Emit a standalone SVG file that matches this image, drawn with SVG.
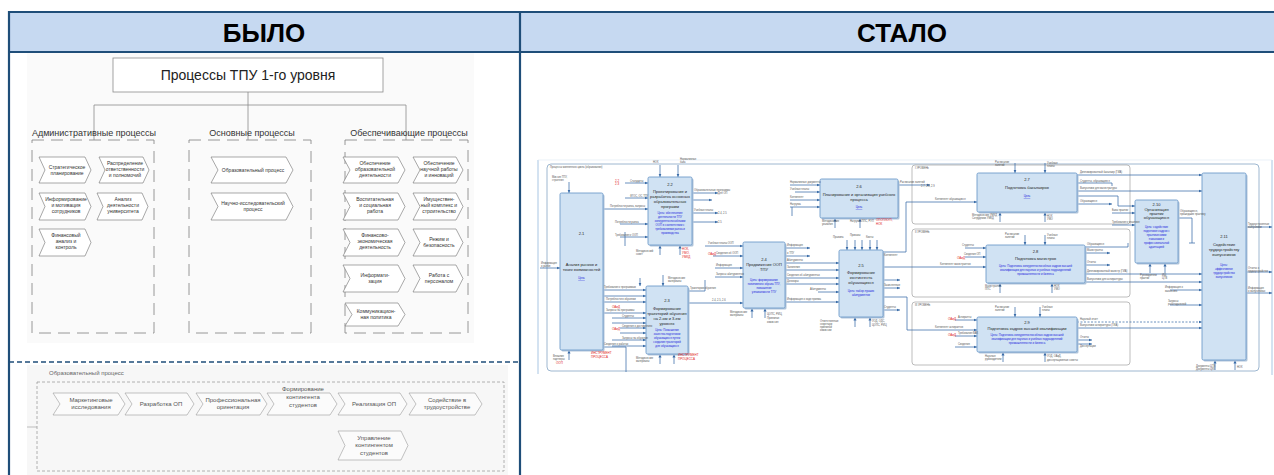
<svg xmlns="http://www.w3.org/2000/svg" width="1274" height="475" viewBox="0 0 1274 475">
<style>
.hd{fill:#C6D9F1}
.bd{stroke:#1F4E79;stroke-width:2.2;fill:none}
.ttl{font-family:"Liberation Sans",Arial,sans-serif;font-weight:bold;font-size:26px;fill:#000;text-anchor:middle}
.o{fill:none;stroke:#8C8C8C;stroke-width:0.8}
.dsh{fill:none;stroke:#8C8C8C;stroke-width:0.9;stroke-dasharray:12 7}
.dsh2{fill:none;stroke:#A0A0A0;stroke-width:0.8;stroke-dasharray:3 2}
.chev{fill:#FFFFFF;stroke:#6E6E6E;stroke-width:0.6}
.chev2{fill:#FBFBFB;stroke:#9A9A9A;stroke-width:0.6}
.ct{font-family:"Liberation Sans",Arial,sans-serif;font-size:5px;fill:#333;text-anchor:middle}
.gl{font-family:"Liberation Sans",Arial,sans-serif;font-size:9px;fill:#333;text-anchor:middle}
.c2{font-family:"Liberation Sans",Arial,sans-serif;font-size:6px;fill:#555;text-anchor:middle}
.bx{fill:#D0E2F3;stroke:#6F9CCB;stroke-width:0.9}
.sh{fill:#AFC4DA}
.grp{fill:none;stroke:#A0A0A0;stroke-width:0.7}
.c{fill:none;stroke:#3A6CA8;stroke-width:0.75;marker-end:url(#a)}
.cn{fill:none;stroke:#3A6CA8;stroke-width:0.75}
.cd{fill:none;stroke:#3A6CA8;stroke-width:0.75;stroke-dasharray:2 1.5;marker-end:url(#a)}
.f{font-family:"Liberation Sans",Arial,sans-serif}
.bt{font-size:4px;fill:#222;text-anchor:middle}
.bl{font-size:2.8px;fill:#2222DD;text-anchor:middle}
.lb{font-size:2.6px;fill:#555}
.rd{font-size:3px;fill:#E02020}
</style>
<defs>
<marker id="a" markerWidth="4" markerHeight="4" refX="3.5" refY="2" orient="auto" markerUnits="userSpaceOnUse">
<path d="M0,0.5 L3.5,2 L0,3.5 Z" fill="#3A6CA8"/>
</marker>
</defs>

<!-- table -->
<g id="table">
<rect class="hd" x="9" y="12" width="1265" height="40"/>
<line class="bd" x1="8" y1="12" x2="1274" y2="12"/>
<line class="bd" x1="8" y1="52" x2="1274" y2="52"/>
<line class="bd" x1="9" y1="11" x2="9" y2="475"/>
<line class="bd" x1="520" y1="11" x2="520" y2="475"/>
<line x1="9" y1="362" x2="520" y2="362" stroke="#1F4E79" stroke-width="1.4" stroke-dasharray="5 3"/>
<text class="ttl" x="264" y="42">БЫЛО</text>
<text class="ttl" x="902" y="42">СТАЛО</text>
</g>

<!-- LEFT: old structure -->
<g id="old-top">
<rect x="27" y="53" width="447" height="290" fill="#FAFAFA"/>
<g id="root">
<rect x="113" y="58" width="270" height="34" fill="#FFFFFF" stroke="#8C8C8C" stroke-width="0.8"/>
<text class="f" x="248" y="80" font-size="14" fill="#222" text-anchor="middle">Процессы ТПУ 1-го уровня</text>
</g>
<g id="tree-lines">
<path class="o" d="M248,92 V140 M94,105 H406 M94,105 V140 M406,105 V140"/>
</g>
<g id="grp-admin">
<text class="gl" x="94" y="136">Административные процессы</text>
<rect class="dsh" x="32" y="140" width="122" height="193"/>
<polygon class="chev" points="39,157 85,157 91,170 85,183 39,183 45,170"/>
<text class="ct" x="67" y="169">Стратегическое</text><text class="ct" x="67" y="175">планирование</text>
<polygon class="chev" points="99,157 143,157 149,170 143,183 99,183 105,170"/>
<text class="ct" x="125" y="165">Распределение</text><text class="ct" x="125" y="171">ответственности</text><text class="ct" x="125" y="177">и полномочий</text>
<polygon class="chev" points="39,193 85,193 91,206.5 85,220 39,220 45,206.5"/>
<text class="ct" x="66" y="201">Информирование</text><text class="ct" x="66" y="207">и мотивация</text><text class="ct" x="66" y="213">сотрудников</text>
<polygon class="chev" points="97,193 142,193 148,206.5 142,220 97,220 103,206.5"/>
<text class="ct" x="123" y="201">Анализ</text><text class="ct" x="123" y="207">деятельности</text><text class="ct" x="123" y="213">университета</text>
<polygon class="chev" points="39,229 85,229 91,242.5 85,256 39,256 45,242.5"/>
<text class="ct" x="66" y="237">Финансовый</text><text class="ct" x="66" y="243">анализ и</text><text class="ct" x="66" y="249">контроль</text>
</g>
<g id="grp-main">
<text class="gl" x="252" y="136">Основные процессы</text>
<rect class="dsh" x="189" y="140" width="122" height="193"/>
<polygon class="chev" points="211,157 286,157 293,170 286,183 211,183 218,170"/>
<text class="ct" x="253" y="172">Образовательный процесс</text>
<polygon class="chev" points="211,193 286,193 293,206.5 286,220 211,220 218,206.5"/>
<text class="ct" x="253" y="205">Научно-исследовательский</text><text class="ct" x="253" y="211">процесс</text>
</g>
<g id="grp-support">
<text class="gl" x="409" y="136">Обеспечивающие процессы</text>
<rect class="dsh" x="345" y="140" width="123" height="193"/>
<polygon class="chev" points="343,157 398,157 405,170 398,183 343,183 350,170"/>
<text class="ct" x="375" y="165">Обеспечение</text><text class="ct" x="375" y="171">образовательной</text><text class="ct" x="375" y="177">деятельности</text>
<polygon class="chev" points="413,157 456,157 463,170 456,183 413,183 420,170"/>
<text class="ct" x="439" y="165">Обеспечение</text><text class="ct" x="439" y="171">научной работы</text><text class="ct" x="439" y="177">и инноваций</text>
<polygon class="chev" points="343,193 398,193 405,206.5 398,220 343,220 350,206.5"/>
<text class="ct" x="375" y="201">Воспитательная</text><text class="ct" x="375" y="207">и социальная</text><text class="ct" x="375" y="213">работа</text>
<polygon class="chev" points="413,193 456,193 463,206.5 456,220 413,220 420,206.5"/>
<text class="ct" x="439" y="201">Имуществен-</text><text class="ct" x="439" y="207">ный комплекс и</text><text class="ct" x="439" y="213">строительство</text>
<polygon class="chev" points="343,229 398,229 405,242.5 398,256 343,256 350,242.5"/>
<text class="ct" x="375" y="237">Финансово-</text><text class="ct" x="375" y="243">экономическая</text><text class="ct" x="375" y="249">деятельность</text>
<polygon class="chev" points="413,229 456,229 463,242.5 456,256 413,256 420,242.5"/>
<text class="ct" x="439" y="241">Режим и</text><text class="ct" x="439" y="247">безопасность</text>
<polygon class="chev" points="343,265 398,265 405,278.5 398,292 343,292 350,278.5"/>
<text class="ct" x="375" y="277">Информати-</text><text class="ct" x="375" y="283">зация</text>
<polygon class="chev" points="413,265 456,265 463,278.5 456,292 413,292 420,278.5"/>
<text class="ct" x="439" y="277">Работа с</text><text class="ct" x="439" y="283">персоналом</text>
<polygon class="chev" points="345,303 398,303 405,314.5 398,326 345,326 352,314.5"/>
<text class="ct" x="376" y="313">Коммуникацион-</text><text class="ct" x="376" y="319">ная политика</text>
</g>
</g>

<g id="old-edu">
<rect x="27" y="365" width="481" height="110" fill="#F7F7F7"/>
<text class="f" x="49" y="375" font-size="6" fill="#666">Образовательный процесс</text>
<rect class="dsh2" x="37" y="382" width="467" height="89"/>
<line x1="27" y1="427" x2="37" y2="427" stroke="#999" stroke-width="0.6"/>
<polygon class="chev2" points="53,393 118,393 125,404 118,415 53,415 60,404"/>
<text class="c2" x="91" y="402">Маркетинговые</text><text class="c2" x="91" y="409">исследования</text>
<polygon class="chev2" points="125,393 187,393 194,404 187,415 125,415 132,404"/>
<text class="c2" x="161" y="406">Разработка ОП</text>
<polygon class="chev2" points="196,393 260,393 267,404 260,415 196,415 203,404"/>
<text class="c2" x="233" y="402">Профессиональная</text><text class="c2" x="233" y="409">ориентация</text>
<polygon class="chev2" points="267,393 330,393 337,404 330,415 267,415 274,404"/>
<text class="c2" x="303" y="391">Формирование</text><text class="c2" x="303" y="399">контингента</text><text class="c2" x="303" y="407">студентов</text>
<polygon class="chev2" points="338,393 400,393 407,404 400,415 338,415 345,404"/>
<text class="c2" x="374" y="406">Реализация ОП</text>
<polygon class="chev2" points="409,393 475,393 482,404 475,415 409,415 416,404"/>
<text class="c2" x="447" y="402">Содействие в</text><text class="c2" x="447" y="409">трудоустройстве</text>
<polygon class="chev2" points="338,431 401,431 408,445.5 401,460 338,460 345,445.5"/>
<text class="c2" x="374" y="440">Управление</text><text class="c2" x="374" y="447">контингентом</text><text class="c2" x="374" y="455">студентов</text>
</g>

<!-- RIGHT: new IDEF diagram -->
<g id="new-frame">
<line x1="538" y1="160" x2="538" y2="374" stroke="#A9C6E3" stroke-width="1"/>
<line x1="1272" y1="160" x2="1272" y2="375" stroke="#A9C6E3" stroke-width="1"/>
<line x1="538" y1="160" x2="1272" y2="160" stroke="#DCE8F4" stroke-width="0.6"/>
<rect x="547" y="164" width="712" height="207" rx="4" fill="none" stroke="#93AFCB" stroke-width="0.9"/>
<text class="f lb" x="550" y="168">Процессы жизненного цикла (образование)</text>
<rect class="grp" x="912" y="165" width="218" height="59" rx="3"/>
<text class="f lb" x="915" y="169">I УРОВЕНЬ</text>
<rect class="grp" x="912" y="229" width="218" height="68" rx="3"/>
<text class="f lb" x="915" y="233">II УРОВЕНЬ</text>
<rect class="grp" x="912" y="302" width="218" height="63" rx="3"/>
<text class="f lb" x="915" y="306">III УРОВЕНЬ</text>
</g>

<g id="connectors">
<!-- 2.1 -->
<path class="c" d="M540,268 H560"/>
<path class="c" d="M569,182 V193"/>
<path class="c" d="M569,360 V350"/>
<path class="c" d="M603,209 H648"/>
<path class="c" d="M603,290 H646"/>
<path class="c" d="M603,296 H646"/>
<path class="c" d="M603,302 H646"/>
<path class="c" d="M603,313 H646"/>
<path class="cn" d="M603,347 H626 V372"/>
<!-- 2.2 -->
<path class="c" d="M660,165 V177"/>
<path class="c" d="M678,165 V177"/>
<path class="c" d="M625,183 H648"/>
<path class="c" d="M625,198 H648"/>
<path class="c" d="M620,224 H648"/>
<path class="c" d="M620,237 H648"/>
<path class="cn" d="M625,232 V246"/>
<path class="c" d="M660,255 V245"/>
<path class="c" d="M680,255 V245"/>
<path class="c" d="M692,193 H718"/>
<path class="c" d="M692,200 H712"/>
<path class="c" d="M692,213 H718"/>
<path class="c" d="M692,222 H718"/>
<!-- 2.3 -->
<path class="c" d="M663,275 V286"/>
<path class="c" d="M640,278 V286"/>
<path class="c" d="M612,318 H646"/>
<path class="c" d="M612,323 H646"/>
<path class="c" d="M620,328 H646"/>
<path class="c" d="M620,333 H646"/>
<path class="c" d="M612,340 H646"/>
<path class="c" d="M612,346 H646"/>
<path class="c" d="M660,364 V354"/>
<path class="c" d="M674,364 V354"/>
<path class="cn" d="M688,291 H705 V280"/>
<path class="c" d="M688,303 H743"/>
<!-- 2.4 -->
<path class="c" d="M705,246 H743"/>
<path class="c" d="M713,256 H743"/>
<path class="c" d="M715,268 H743"/>
<path class="c" d="M715,277 H743"/>
<path class="c" d="M752,318 V308"/>
<path class="c" d="M765,318 V308"/>
<path class="c" d="M785,248 H810"/>
<path class="c" d="M785,256 H810"/>
<path class="c" d="M785,263 H839"/>
<path class="c" d="M785,270 H839"/>
<path class="c" d="M785,278 H839"/>
<path class="c" d="M785,284 H839"/>
<path class="c" d="M785,302 H839"/>
<!-- 2.5 -->
<path class="c" d="M847,240 V250"/>
<path class="c" d="M855,240 V250"/>
<path class="c" d="M862,240 V250"/>
<path class="c" d="M870,240 V250"/>
<path class="c" d="M877,240 V250"/>
<path class="c" d="M818,292 H839"/>
<path class="c" d="M855,327 V317"/>
<path class="c" d="M870,327 V317"/>
<path class="cn" d="M883,252 H906 V202"/>
<path class="c" d="M906,202 H977"/>
<path class="c" d="M883,267 H986"/>
<path class="c" d="M883,280 H900"/>
<path class="c" d="M883,288 H900"/>
<path class="cn" d="M883,297 H907 V330"/>
<path class="c" d="M907,330 H977"/>
<path class="c" d="M883,310 H900"/>
<!-- 2.6 -->
<path class="c" d="M790,185 H820"/>
<path class="c" d="M795,192 H820"/>
<path class="c" d="M790,200 H820"/>
<path class="c" d="M790,207 H820"/>
<path class="cn" d="M792,207 V216"/>
<path class="c" d="M835,228 V218"/>
<path class="c" d="M860,228 V218"/>
<path class="c" d="M898,185 H930"/>
<!-- 2.7 -->
<path class="c" d="M1015,163 V173"/>
<path class="c" d="M1045,163 V173"/>
<path class="c" d="M1000,222 V212"/>
<path class="c" d="M1045,222 V212"/>
<path class="c" d="M1077,175 H1202"/>
<path class="cn" d="M1077,183 H1112 V186"/>
<path class="c" d="M1077,191 H1202"/>
<path class="cn" d="M1077,196 H1118 V206"/>
<path class="c" d="M1118,206 H1135"/>
<path class="c" d="M1077,204 H1112"/>
<!-- 2.8 -->
<path class="c" d="M1025,235 V245"/>
<path class="c" d="M1045,235 V245"/>
<path class="c" d="M965,248 H986"/>
<path class="c" d="M965,257 H986"/>
<path class="c" d="M1000,293 V283"/>
<path class="c" d="M1052,293 V283"/>
<path class="cn" d="M1085,247 H1128 V243"/>
<path class="c" d="M1085,253 H1110"/>
<path class="c" d="M1085,265 H1110"/>
<path class="c" d="M1085,274 H1202"/>
<path class="c" d="M1085,282 H1202"/>
<!-- 2.9 -->
<path class="c" d="M1015,307 V317"/>
<path class="c" d="M1040,307 V317"/>
<path class="c" d="M955,320 H977"/>
<path class="c" d="M955,336 H977"/>
<path class="c" d="M955,347 H977"/>
<path class="c" d="M1003,362 V352"/>
<path class="c" d="M1045,362 V352"/>
<path class="cd" d="M1077,322 H1202"/>
<path class="c" d="M1077,328 H1202"/>
<path class="c" d="M1077,340 H1092"/>
<path class="c" d="M1077,344 H1092"/>
<!-- 2.10 -->
<path class="c" d="M1112,213 H1135"/>
<path class="c" d="M1112,225 H1135"/>
<path class="c" d="M1150,273 V263"/>
<path class="c" d="M1165,273 V263"/>
<path class="cn" d="M1178,218 H1192 V243 M1189,243 H1195"/>
<!-- 2.11 -->
<path class="c" d="M1170,290 H1202"/>
<path class="c" d="M1170,305 H1202"/>
<path class="c" d="M1215,370 V360"/>
<path class="c" d="M1235,370 V360"/>
<path class="c" d="M1246,227 H1272"/>
<path class="c" d="M1246,272 H1272"/>
<path class="c" d="M1246,293 H1272"/>
</g>

<g id="n2-1">
<rect class="sh" x="561.5" y="194.5" width="43" height="157" rx="1.5"/>
<rect class="bx" x="560" y="193" width="43" height="157" rx="1.5"/>
<text class="f bt" x="581.5" y="235">2.1</text>
<text class="f bt" x="581.5" y="266">Анализ рынков и</text>
<text class="f bt" x="581.5" y="271">точек возможностей</text>
<text class="f bl" x="581.5" y="279" text-decoration="underline">Цель</text>
</g>
<g id="n2-2">
<rect class="sh" x="649.5" y="178.5" width="44" height="68" rx="1.5"/>
<rect class="bx" x="648" y="177" width="44" height="68" rx="1.5"/>
<text class="f bt" x="670" y="186">2.2</text>
<text class="f bt" x="670" y="193">Проектирование и</text>
<text class="f bt" x="670" y="198">разработка основных</text>
<text class="f bt" x="670" y="203">образовательных</text>
<text class="f bt" x="670" y="208">программ</text>
<text class="f bl" x="670" y="214">Цель: обеспечение</text>
<text class="f bl" x="670" y="218">деятельности ТПУ</text>
<text class="f bl" x="670" y="222">конкурентоспособными</text>
<text class="f bl" x="670" y="226">ООП в соответствии с</text>
<text class="f bl" x="670" y="230">требованиями рынка и</text>
<text class="f bl" x="670" y="234">производства</text>
</g>
<g id="n2-3">
<rect class="sh" x="647.5" y="287.5" width="42" height="68" rx="1.5"/>
<rect class="bx" x="646" y="286" width="42" height="68" rx="1.5"/>
<text class="f bt" x="667" y="302">2.3</text>
<text class="f bt" x="667" y="310">Формирование</text>
<text class="f bt" x="667" y="315">траекторий обучения</text>
<text class="f bt" x="667" y="320">на 2-ом и 3-ем</text>
<text class="f bt" x="667" y="325">уровнях</text>
<text class="f bl" x="667" y="331">Цель: Повышение</text>
<text class="f bl" x="667" y="335">качества подготовки</text>
<text class="f bl" x="667" y="339">обучающихся путем</text>
<text class="f bl" x="667" y="343">создания траекторий</text>
<text class="f bl" x="667" y="347">для обучающихся</text>
</g>
<g id="n2-4">
<rect class="sh" x="744.5" y="243.5" width="42" height="66" rx="1.5"/>
<rect class="bx" x="743" y="242" width="42" height="66" rx="1.5"/>
<text class="f bt" x="764" y="261">2.4</text>
<text class="f bt" x="764" y="266">Продвижение ООП</text>
<text class="f bt" x="764" y="271">ТПУ</text>
<text class="f bl" x="764" y="281">Цель: формирование</text>
<text class="f bl" x="764" y="285">позитивного образа ТПУ,</text>
<text class="f bl" x="764" y="289">повышение</text>
<text class="f bl" x="764" y="293">узнаваемости ТПУ</text>
</g>
<g id="n2-5">
<rect class="sh" x="840.5" y="251.5" width="44" height="67" rx="1.5"/>
<rect class="bx" x="839" y="250" width="44" height="67" rx="1.5"/>
<text class="f bt" x="861" y="267">2.5</text>
<text class="f bt" x="861" y="274">Формирование</text>
<text class="f bt" x="861" y="279">контингента</text>
<text class="f bt" x="861" y="284">обучающихся</text>
<text class="f bl" x="861" y="292">Цель: набор лучших</text>
<text class="f bl" x="861" y="296">абитуриентов</text>
</g>
<g id="n2-6">
<rect class="sh" x="821.5" y="180.5" width="78" height="39" rx="1.5"/>
<rect class="bx" x="820" y="179" width="78" height="39" rx="1.5"/>
<text class="f bt" x="859" y="188">2.6</text>
<text class="f bt" x="859" y="196">Планирование и организация учебного</text>
<text class="f bt" x="859" y="201">процесса</text>
<text class="f bl" x="859" y="208" text-decoration="underline">Цель</text>
</g>
<g id="n2-7">
<rect class="sh" x="978.5" y="174.5" width="100" height="39" rx="1.5"/>
<rect class="bx" x="977" y="173" width="100" height="39" rx="1.5"/>
<text class="f bt" x="1027" y="181">2.7</text>
<text class="f bt" x="1027" y="189">Подготовка бакалавров</text>
<text class="f bl" x="1027" y="197" text-decoration="underline">Цель</text>
</g>
<g id="n2-8">
<rect class="sh" x="987.5" y="246.5" width="99" height="38" rx="1.5"/>
<rect class="bx" x="986" y="245" width="99" height="38" rx="1.5"/>
<text class="f bt" x="1035.5" y="253">2.8</text>
<text class="f bt" x="1035.5" y="260">Подготовка магистров</text>
<text class="f bl" x="1035.5" y="267">Цель: Подготовка конкурентоспособных кадров высшей</text>
<text class="f bl" x="1035.5" y="271">квалификации для научных и учебных подразделений</text>
<text class="f bl" x="1035.5" y="275">промышленности и бизнеса</text>
</g>
<g id="n2-9">
<rect class="sh" x="978.5" y="318.5" width="100" height="35" rx="1.5"/>
<rect class="bx" x="977" y="317" width="100" height="35" rx="1.5"/>
<text class="f bt" x="1027" y="324">2.9</text>
<text class="f bt" x="1027" y="330">Подготовка кадров высшей квалификации</text>
<text class="f bl" x="1027" y="336">Цель: Подготовка конкурентоспособных кадров высшей</text>
<text class="f bl" x="1027" y="340">квалификации для научных и учебных подразделений</text>
<text class="f bl" x="1027" y="344">промышленности и бизнеса</text>
</g>
<g id="n2-10">
<rect class="sh" x="1136.5" y="201.5" width="43" height="63" rx="1.5"/>
<rect class="bx" x="1135" y="200" width="43" height="63" rx="1.5"/>
<text class="f bt" x="1156.5" y="206">2.10</text>
<text class="f bt" x="1156.5" y="211">Организация</text>
<text class="f bt" x="1156.5" y="215">практик</text>
<text class="f bt" x="1156.5" y="219">обучающихся</text>
<text class="f bl" x="1156.5" y="228">Цель: содействие</text>
<text class="f bl" x="1156.5" y="232">подготовке кадров с</text>
<text class="f bl" x="1156.5" y="236">практическими</text>
<text class="f bl" x="1156.5" y="240">навыками и</text>
<text class="f bl" x="1156.5" y="244">профессиональной</text>
<text class="f bl" x="1156.5" y="248">адаптацией</text>
</g>
<g id="n2-11">
<rect class="sh" x="1203.5" y="174.5" width="44" height="187" rx="1.5"/>
<rect class="bx" x="1202" y="173" width="44" height="187" rx="1.5"/>
<text class="f bt" x="1224" y="238">2.11</text>
<text class="f bt" x="1224" y="246">Содействие</text>
<text class="f bt" x="1224" y="251">трудоустройству</text>
<text class="f bt" x="1224" y="256">выпускников</text>
<text class="f bl" x="1224" y="266">Цель:</text>
<text class="f bl" x="1224" y="270">эффективное</text>
<text class="f bl" x="1224" y="274">трудоустройство</text>
<text class="f bl" x="1224" y="278">выпускников</text>
</g>

<g id="labels">
<text class="f lb" x="541" y="264">Информация</text>
<text class="f lb" x="541" y="267">о рынке</text>
<text class="f lb" x="552" y="178">Миссия ТПУ,</text>
<text class="f lb" x="552" y="181">стратегия</text>
<text class="f lb" x="553" y="357">Внешние</text>
<text class="f lb" x="553" y="360">партнеры</text>
<text class="f rd" x="556" y="364">ООП</text>
<text class="f rd" x="591" y="354">ИНСТРУМЕНТ</text>
<text class="f rd" x="591" y="358">ПРОЦЕССА</text>
<text class="f lb" x="610" y="207">Потребности рынка, запросы</text>
<text class="f lb" x="604" y="288">Требования к программам</text>
<text class="f lb" x="606" y="300">Потребности в обучении</text>
<text class="f lb" x="606" y="311">Запросы на программы</text>
<text class="f lb" x="604" y="345">Сведения о работах</text>
<text class="f lb" x="653" y="163">НОК</text>
<text class="f lb" x="680" y="160">Нормативная</text>
<text class="f lb" x="680" y="163">база</text>
<text class="f rd" x="615" y="182">2.2</text>
<text class="f rd" x="615" y="185">2.3</text>
<text class="f lb" x="630" y="182">Стандарты</text>
<text class="f lb" x="630" y="197">ФГОС, ОС ТПУ</text>
<text class="f lb" x="615" y="223">Потребности рынка</text>
<text class="f lb" x="615" y="236">Требования к ООП</text>
<text class="f lb" x="636" y="252">Методический</text>
<text class="f lb" x="636" y="255">совет</text>
<text class="f rd" x="682" y="250">НОК,</text>
<text class="f rd" x="682" y="254">УМО,</text>
<text class="f rd" x="682" y="258">УМКД</text>
<text class="f lb" x="694" y="191">Образовательные программы</text>
<text class="f lb" x="718" y="194">Для ОП</text>
<text class="f lb" x="694" y="211">Учебные планы</text>
<text class="f lb" x="718" y="214">2.4, 2.5</text>
<text class="f lb" x="718" y="223">2.5</text>
<text class="f lb" x="668" y="279">Методические</text>
<text class="f lb" x="668" y="282">материалы</text>
<text class="f rd" x="612" y="308">ОАиД</text>
<text class="f rd" x="612" y="330">ОАиД</text>
<text class="f lb" x="622" y="317">Студенты</text>
<text class="f lb" x="622" y="327">Сведения о достижениях</text>
<text class="f lb" x="622" y="339">Запросы на обучение</text>
<text class="f lb" x="636" y="359">Методические</text>
<text class="f lb" x="636" y="362">материалы</text>
<text class="f rd" x="678" y="356">ИНСТРУМЕНТ</text>
<text class="f rd" x="678" y="360">ПРОЦЕССА</text>
<text class="f lb" x="690" y="289">Траектории обучения</text>
<text class="f lb" x="712" y="301">2.4, 2.5, 2.6</text>
<text class="f lb" x="708" y="244">Учебные планы ООП</text>
<text class="f rd" x="708" y="255">ОАиД</text>
<text class="f lb" x="716" y="254">Сведения об ООП</text>
<text class="f lb" x="716" y="266">Информация</text>
<text class="f lb" x="716" y="275">Запросы абитуриентов</text>
<text class="f lb" x="730" y="313">Методические</text>
<text class="f lb" x="730" y="316">материалы</text>
<text class="f lb" x="767" y="315">ЦОПС, РИЦ,</text>
<text class="f lb" x="767" y="319">Приемная</text>
<text class="f lb" x="767" y="323">комиссия</text>
<text class="f lb" x="787" y="246">Информация</text>
<text class="f lb" x="787" y="254">о ТПУ</text>
<text class="f lb" x="787" y="261">Абитуриенты</text>
<text class="f lb" x="787" y="268">Заявления</text>
<text class="f lb" x="787" y="276">Сведения об абитуриентах</text>
<text class="f lb" x="787" y="282">Договоры</text>
<text class="f lb" x="787" y="300">Информация о ходе приема</text>
<text class="f lb" x="833" y="238">Правила</text>
<text class="f lb" x="850" y="236">Приказы</text>
<text class="f lb" x="866" y="238">Квоты</text>
<text class="f lb" x="810" y="290">Абитуриенты</text>
<text class="f lb" x="820" y="322">Ответственные</text>
<text class="f lb" x="820" y="325">секретари</text>
<text class="f lb" x="820" y="328">приемной</text>
<text class="f lb" x="820" y="331">комиссии</text>
<text class="f lb" x="872" y="322">УОД, ОДС,</text>
<text class="f lb" x="872" y="326">ЦОПС, РИЦ</text>
<text class="f lb" x="884" y="256">Контингент</text>
<text class="f lb" x="884" y="286">Зачисленные</text>
<text class="f lb" x="884" y="308">Студенты</text>
<text class="f lb" x="790" y="183">Нормативные документы</text>
<text class="f lb" x="790" y="190">Учебные планы</text>
<text class="f lb" x="790" y="198">Контингент</text>
<text class="f lb" x="790" y="205">Нагрузка</text>
<text class="f lb" x="822" y="222">Методические</text>
<text class="f lb" x="822" y="225">указания</text>
<text class="f lb" x="850" y="222">Нагрузка ППС, РУП</text>
<text class="f rd" x="876" y="221">ОПОП/КУП,</text>
<text class="f rd" x="876" y="225">НОК</text>
<text class="f lb" x="900" y="183">Расписание занятий</text>
<text class="f lb" x="921" y="187">2.7, 2.8, 2.9</text>
<text class="f lb" x="935" y="200">Контингент обучающихся</text>
<text class="f lb" x="940" y="265">Контингент магистрантов</text>
<text class="f lb" x="935" y="328">Контингент аспирантов</text>
<text class="f lb" x="995" y="163">Расписание</text>
<text class="f lb" x="995" y="166">занятий</text>
<text class="f lb" x="1047" y="164">Учебные</text>
<text class="f lb" x="1047" y="167">планы</text>
<text class="f lb" x="972" y="216">Методические УМКД</text>
<text class="f lb" x="972" y="219">Сотрудники УМКД</text>
<text class="f lb" x="1047" y="217">НОК</text>
<text class="f lb" x="1047" y="220">УМО</text>
<text class="f lb" x="1080" y="173">Дипломированный бакалавр (ГИА)</text>
<text class="f lb" x="1080" y="182">Студенты, обучающиеся</text>
<text class="f lb" x="1080" y="189">Выпускники для магистратуры</text>
<text class="f lb" x="1080" y="202">Обучающиеся</text>
<text class="f lb" x="1005" y="235">Расписание</text>
<text class="f lb" x="1005" y="238">занятий</text>
<text class="f lb" x="1047" y="236">Учебные</text>
<text class="f lb" x="1047" y="239">планы</text>
<text class="f lb" x="962" y="246">Студенты</text>
<text class="f rd" x="957" y="259">ОАиД</text>
<text class="f lb" x="964" y="255">Сведения ОП</text>
<text class="f lb" x="985" y="287">Магистранты</text>
<text class="f lb" x="985" y="290">ППС</text>
<text class="f lb" x="1054" y="287">НОК</text>
<text class="f lb" x="1054" y="290">УМО</text>
<text class="f lb" x="1087" y="245">Обучающиеся</text>
<text class="f lb" x="1087" y="251">Магистранты</text>
<text class="f lb" x="1087" y="263">Отчеты</text>
<text class="f lb" x="1087" y="272">Дипломированный магистр (ГИА)</text>
<text class="f lb" x="1087" y="280">Выпускники для аспирантуры</text>
<text class="f lb" x="995" y="308">Расписание</text>
<text class="f lb" x="995" y="311">занятий</text>
<text class="f lb" x="1042" y="308">Учебные</text>
<text class="f lb" x="1042" y="311">планы</text>
<text class="f rd" x="948" y="320">ОАиД</text>
<text class="f lb" x="958" y="318">Аспиранты</text>
<text class="f rd" x="948" y="336">ОАиД</text>
<text class="f lb" x="958" y="334">Требования ВАК</text>
<text class="f lb" x="958" y="345">Сведения</text>
<text class="f lb" x="985" y="357">Научные</text>
<text class="f lb" x="985" y="360">руководители</text>
<text class="f lb" x="1047" y="357">УОД, ОАиД,</text>
<text class="f lb" x="1047" y="361">диссертационные советы</text>
<text class="f lb" x="1080" y="320">Научный отчет</text>
<text class="f lb" x="1080" y="326">Выпускники аспирантуры (ГИА)</text>
<text class="f lb" x="1080" y="338">Отчеты</text>
<text class="f lb" x="1080" y="347">Диссертации</text>
<text class="f lb" x="1112" y="211">Базы практик</text>
<text class="f lb" x="1112" y="223">Требования к практике</text>
<text class="f lb" x="1140" y="276">Руководители</text>
<text class="f lb" x="1140" y="279">практик</text>
<text class="f lb" x="1162" y="276">ИШ,</text>
<text class="f lb" x="1162" y="279">ЦТВ</text>
<text class="f lb" x="1180" y="212">Обучающиеся,</text>
<text class="f lb" x="1180" y="215">прошедшие практику</text>
<text class="f lb" x="1165" y="288">Информация о</text>
<text class="f lb" x="1165" y="292">вакансиях</text>
<text class="f lb" x="1168" y="302">Запросы</text>
<text class="f lb" x="1168" y="305">работодателей</text>
<text class="f lb" x="1196" y="367">Документы ЦТВ</text>
<text class="f lb" x="1196" y="370">Документы ЦКК</text>
<text class="f lb" x="1237" y="368">НОК</text>
<text class="f lb" x="1248" y="225">Трудоустроенные</text>
<text class="f lb" x="1248" y="228">выпускники</text>
<text class="f lb" x="1248" y="269">Отчеты о</text>
<text class="f lb" x="1248" y="272">трудоустройстве</text>
<text class="f lb" x="1248" y="289">Информация</text>
<text class="f lb" x="1248" y="292">о выпускниках</text>
</g>
</svg>
